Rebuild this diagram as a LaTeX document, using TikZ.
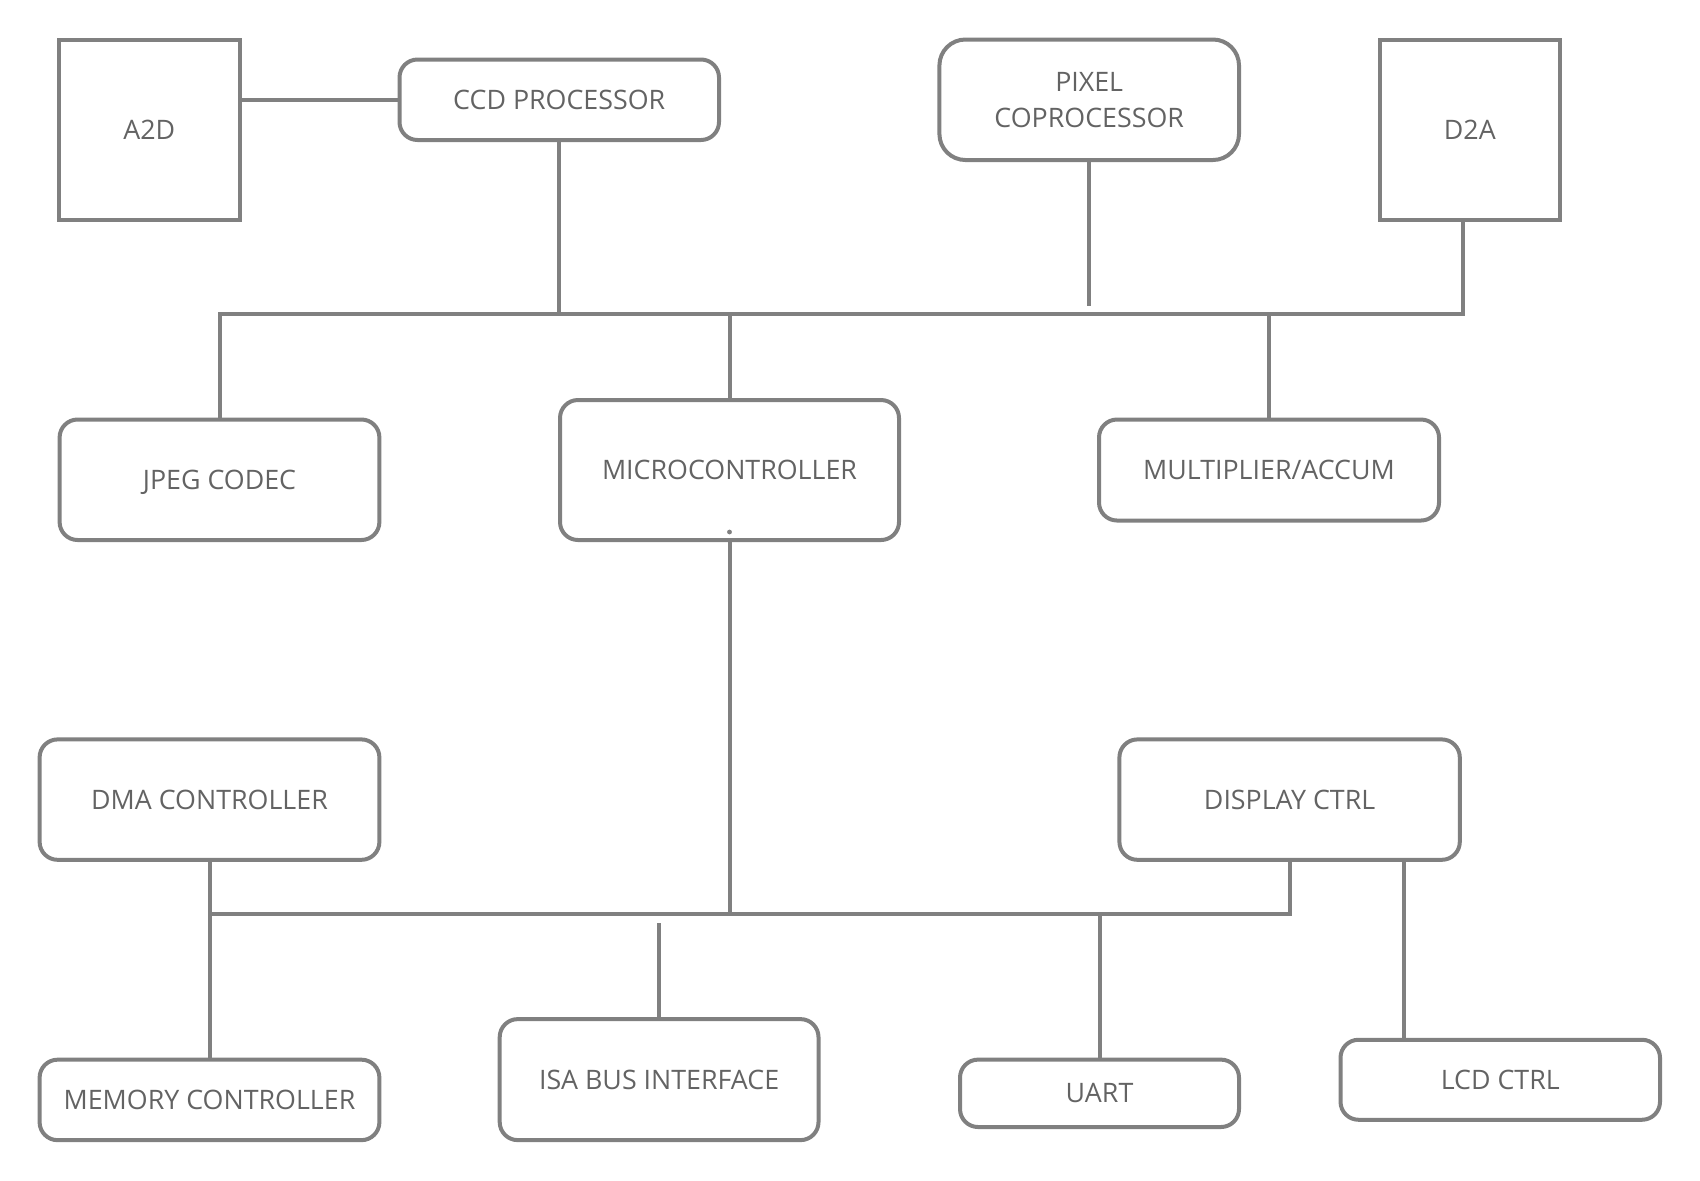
\documentclass[tikz,border=0pt]{standalone}
\usepackage{fontspec}
\setmainfont{Open Sans}
\usetikzlibrary{calc}
\definecolor{boxgray}{HTML}{808080}
\definecolor{textgray}{HTML}{636363}
\tikzset{block/.style={draw=boxgray, line width=2pt, rounded corners=9pt, text=textgray, align=center, inner sep=0pt}}
\tikzset{plain/.style={block, sharp corners}}
\tikzset{wire/.style={draw=boxgray, line width=2pt}}

\begin{document}
\begin{tikzpicture}[font=\fontsize{13.4}{18}\selectfont, x=0.5pt, y=-0.5pt]

        \useasboundingbox (0,0) rectangle (1700,1180);

        % top row
        \node[plain, minimum width=90.75pt, minimum height=90.25pt] (a2d) at (149.25,129.8) {A2D};
        \node[block, minimum width=159.75pt, minimum height=40.25pt] (ccd) at (559.25,99.75) {CCD PROCESSOR};
        \node[block, rounded corners=13pt, minimum width=149.8pt, minimum height=60.25pt] (pixel) at (1089.2,99.75) {PIXEL\\COPROCESSOR};
        \node[plain, minimum width=90.2pt, minimum height=90.25pt] (d2a) at (1469.8,129.8) {D2A};

        % second row
        \node[block, text depth=0pt, minimum width=159.9pt, minimum height=60.25pt] (jpeg) at (219.5,479.75) {JPEG CODEC};
        \node[block, minimum width=169.5pt, minimum height=70pt] (micro) at (729.5,470) {MICROCONTROLLER};
        \node[block, minimum width=170pt, minimum height=50.5pt] (mult) at (1269,470) {MULTIPLIER/ACCUM};

        % third row
        \node[block, minimum width=169.9pt, minimum height=60.2pt] (dma) at (209.5,799.6) {DMA CONTROLLER};
        \node[block, minimum width=170.2pt, minimum height=60.2pt] (disp) at (1289.6,799.6) {DISPLAY CTRL};

        % bottom row
        \node[block, minimum width=169.9pt, minimum height=40.25pt] (mem) at (209.5,1099.9) {MEMORY CONTROLLER};
        \node[block, minimum width=159.4pt, minimum height=60.5pt] (isa) at (659.1,1079.6) {ISA BUS INTERFACE};
        \node[block, minimum width=139.5pt, minimum height=33.7pt] (uart) at (1099.5,1093.3) {UART};
        \node[block, minimum width=159.75pt, minimum height=40pt] (lcd) at (1500.25,1079.75) {LCD CTRL};

        \coordinate (tbus) at (0,314);
        \coordinate (bbus) at (0,914);
        \coordinate (d2atap) at ($(d2a.south)+(-7,0)$);
        \coordinate (lcdtap) at ($(lcd.north)+(-96,0)$);

        % upper bus
        \draw[wire] (a2d.east |- ccd.west) -- (ccd.west);
        \draw[wire] (jpeg.north) -- (jpeg.north |- tbus) -- (d2atap |- tbus) -- (d2atap);
        \draw[wire] (ccd.south) -- (ccd.south |- tbus);
        \draw[wire] (micro.north) -- (micro.north |- tbus);
        \draw[wire] (mult.north) -- (mult.north |- tbus);
        \draw[wire] (pixel.south) -- ($(pixel.south |- tbus)+(0,-8)$);

        % lower bus
        \draw[wire] (dma.south) -- (dma.south |- bbus) -- (disp.south |- bbus) -- (disp.south);
        \draw[wire] (mem.north) -- (mem.north |- bbus);
        \draw[wire] (micro.south) -- (micro.south |- bbus);
        \draw[wire] (isa.north) -- ($(isa.north |- bbus)+(0,9)$);
        \draw[wire] (uart.north) -- (uart.north |- bbus);
        \draw[wire] (lcdtap) -- (lcdtap |- disp.south);

        \fill[boxgray] ($(micro.south)+(0,-10)$) circle (1.2pt);

\end{tikzpicture}
\end{document}
